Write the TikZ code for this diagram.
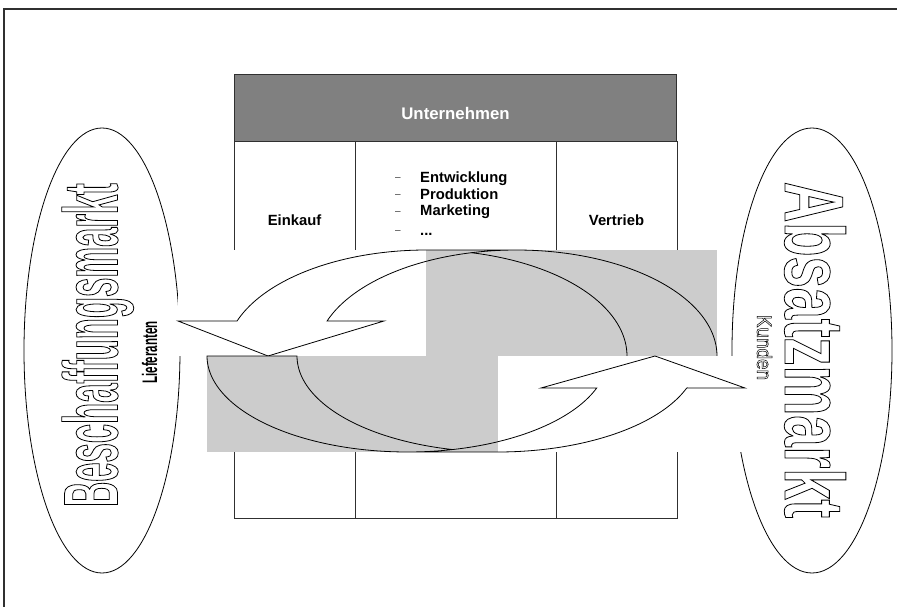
\documentclass[tikz,border=0pt]{standalone}
\usepackage{fontspec}
\setmainfont{Liberation Sans}
\newfontfamily\beschfont[FakeStretch=0.45]{Liberation Sans}
\newfontfamily\absatzfont[FakeStretch=0.667]{Liberation Sans}
\newfontfamily\lieffont[FakeStretch=0.55]{Liberation Sans}
\newfontfamily\kundfont[FakeStretch=0.9]{Liberation Sans}
\usetikzlibrary{shapes.geometric}
\definecolor{hdrgray}{HTML}{808080}
\definecolor{bandgray}{HTML}{CCCCCC}
\definecolor{rulegray}{HTML}{303030}
% hollow (stroked) letters through the PDF text render mode
\newcommand\hollowtext[2]{\special{pdf:literal direct 1 Tr #1 w}#2\special{pdf:literal direct 0 Tr}}
\tikzset{
  framestyle/.style={draw=rulegray, line width=1.1pt},
  rulebox/.style={draw=rulegray, line width=0.9pt, inner sep=0pt, outer sep=0pt},
  market/.style={draw=black, line width=0.8pt, ellipse, inner sep=0pt, outer sep=0pt},
  celltext/.style={inner sep=0pt, anchor=base, font=\bfseries\fontsize{14.8}{17.5}\selectfont},
  listitem/.style={inner sep=0pt, anchor=base west, font=\bfseries\fontsize{14.8}{17.5}\selectfont},
  listdash/.style={inner sep=0pt, anchor=base, text=rulegray, font=\fontsize{10}{11}\selectfont},
  hdrtext/.style={inner sep=0pt, anchor=base, text=white, font=\bfseries\fontsize{16.8}{19}\selectfont},
  wordart/.style={inner sep=0pt, anchor=base},
  cover/.style={fill=white, draw=none},
  band/.style={fill=bandgray, draw=none},
  arrowline/.style={draw=black, line width=0.8pt, line join=miter},
}
\begin{document}
\begin{tikzpicture}[x=1pt,y=-1pt]
\useasboundingbox (0,0) rectangle (897,607);
\fill[white] (0,0) rectangle (897,607);

% page frame
\draw[framestyle] (4,607) -- (4,9) -- (897,9);

% company table
\node[rulebox, fill=hdrgray, minimum width=442pt, minimum height=67pt] (hdr) at (455.5,107.5) {};
\node[rulebox, minimum width=121pt, minimum height=377pt] (einkauf) at (294.5,329.5) {};
\node[rulebox, minimum width=201pt, minimum height=377pt] (mitte) at (455.5,329.5) {};
\node[rulebox, minimum width=121pt, minimum height=377pt] (vertrieb) at (616.5,329.5) {};

\node[hdrtext] (hdrtxt) at (455.5,119.5) {Unternehmen};
\node[celltext] (einkauftxt) at (294.5,225) {Einkauf};
\node[celltext] (vertriebtxt) at (616.5,225) {Vertrieb};

\node[listdash] (d1) at (398,180.8) {–};
\node[listdash] (d2) at (398,197.5) {–};
\node[listdash] (d3) at (398,214.5) {–};
\node[listdash] (d4) at (398,233.5) {–};
\node[listitem] (l1) at (420,182.5) {Entwicklung};
\node[listitem] (l2) at (420,199) {Produktion};
\node[listitem] (l3) at (420,215.5) {Marketing};
\node[listitem] (l4) at (420,235.5) {...};

% markets
\node[market, minimum width=156pt, minimum height=445pt] (beschaffung) at (102,350.5) {};
\node[market, minimum width=160pt, minimum height=445pt] (absatz) at (812,350.5) {};

% upper curved arrow (towards the supplier side)
\fill[cover] (178,250) rectangle (717,356);
\fill[band] (426.4,250) rectangle (717,356);
\draw[arrowline] plot[domain=77.04:0, samples=40, smooth] ({426.4+200.6*cos(\x)},{356-106*sin(\x)});
\draw[arrowline] plot[domain=0:160.72, samples=80, smooth] ({516.4+200.6*cos(\x)},{356-106*sin(\x)})
  -- (384,321) -- (268,356) -- (178,321) -- (237,321)
  -- plot[domain=160.72:90, samples=40, smooth] ({426.4+200.6*cos(\x)},{356-106*sin(\x)})
  -- (516.4,250);

% lower curved arrow (towards the customer side)
\fill[cover] (207,356) rectangle (745,452);
\fill[band] (207,356) rectangle (497.6,452);
\draw[arrowline] plot[domain=77.04:0, samples=40, smooth] ({497.6-200.6*cos(\x)},{356+96*sin(\x)})
  -- (207,356)
  -- plot[domain=0:160.53, samples=80, smooth] ({407.6-200.6*cos(\x)},{356+96*sin(\x)})
  -- (541,388) -- (655,356) -- (745,388) -- (686.7,388)
  -- plot[domain=160.53:90, samples=40, smooth] ({497.6-200.6*cos(\x)},{356+96*sin(\x)})
  -- (407.6,452);

% market lettering
\node[wordart, rotate=90] (beschtxt) at (117.5,345)
  {\beschfont\bfseries\fontsize{77}{80}\selectfont\hollowtext{0.8}{Beschaffungsmarkt}};
\node[wordart, rotate=90] (lieftxt) at (157,352.5)
  {\lieffont\bfseries\fontsize{21}{23}\selectfont Lieferanten};
\node[wordart, rotate=-90] (absatztxt) at (785,350)
  {\absatzfont\bfseries\fontsize{84}{88}\selectfont\hollowtext{0.8}{Absatzmarkt}};
\node[wordart, rotate=-90] (kundtxt) at (757,347.5)
  {\kundfont\fontsize{21}{23}\selectfont\hollowtext{0.5}{Kunden}};
\end{tikzpicture}
\end{document}
